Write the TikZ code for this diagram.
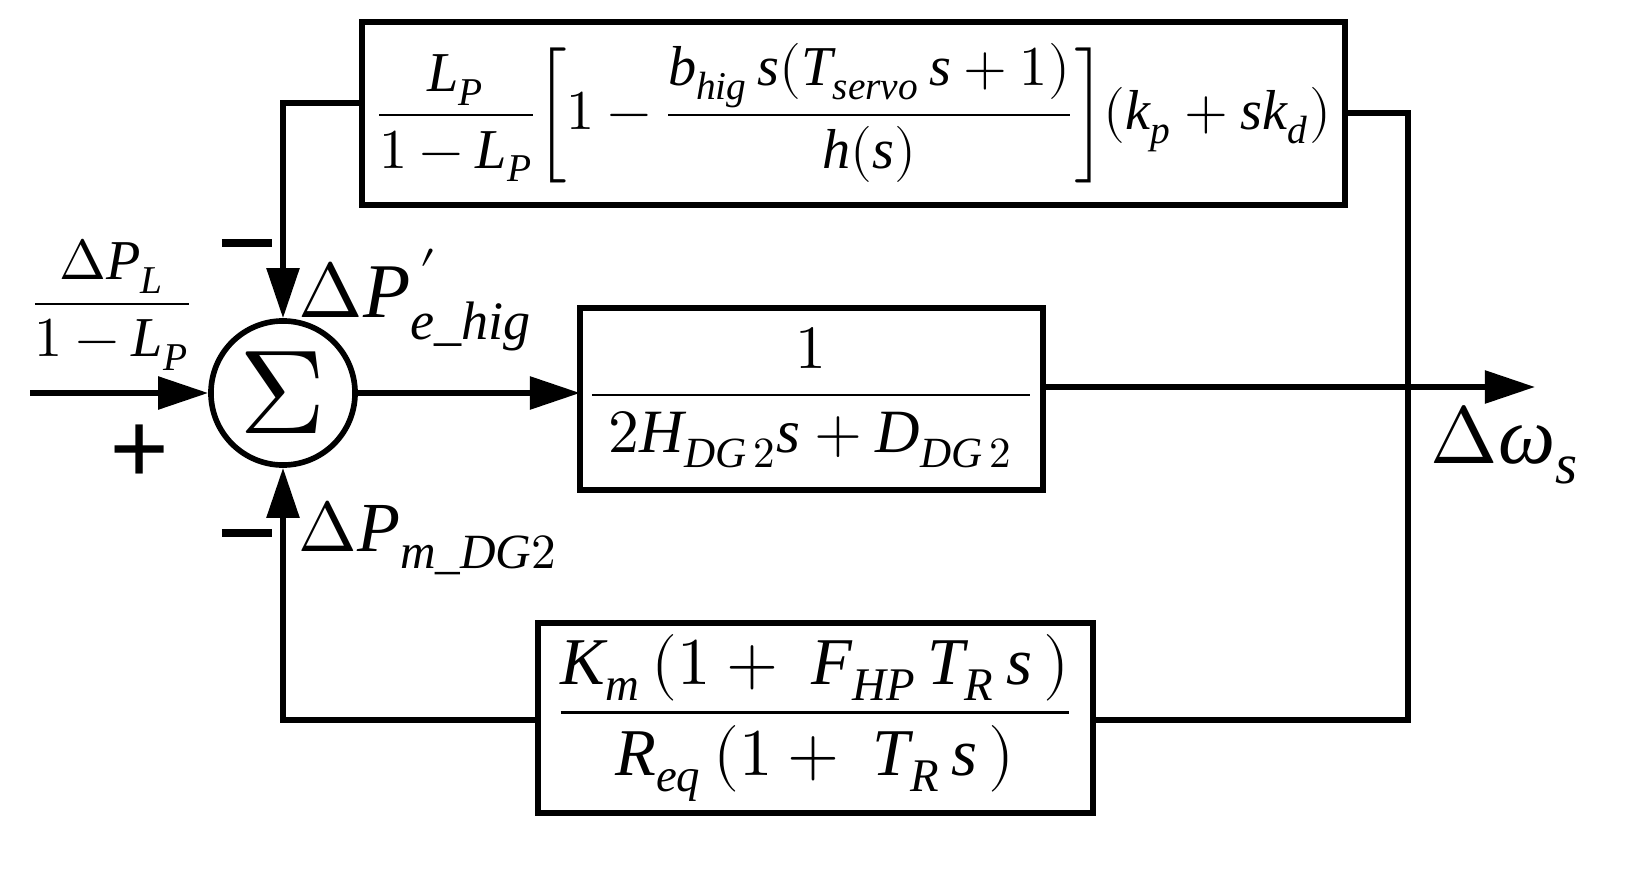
\documentclass[tikz,border=0pt]{standalone}
\usepackage{fontspec}
\setmainfont{Liberation Serif}
\usepackage{unicode-math}
\setmathfont{Latin Modern Math}
\setmathfont[range=it/{latin,Latin,greek}]{Liberation Serif Italic}
\usetikzlibrary{arrows.meta}
\begin{document}
\begin{tikzpicture}[x=0.01cm,y=-0.01cm,
  blk/.style={draw,line width=1.6pt,inner sep=0pt},
  wire/.style={line width=1.6pt},
  arr/.style={wire,-{Triangle[length=0.5cm,width=0.32cm]}},
  lbl/.style={font=\fontsize{19}{22}\selectfont},
  sgn/.style={font=\fontsize{30}{30}\selectfont\bfseries}]
\useasboundingbox (0,0) rectangle (1639,879);
\draw[blk] (362,22) rectangle (1345,205);
\node[font=\fontsize{16}{19}\selectfont] (top) at (853,113) {$\dfrac{L_P}{1-L_P}\!\left[1-\dfrac{b_{hig}\,s(T_{servo}\,s+1)}{h(s)}\right]\!(k_p+sk_d)$};
\draw[blk] (580,308) rectangle (1043,490);
\node[font=\fontsize{17.5}{21}\selectfont] (mid) at (811,398) {$\dfrac{1}{\;2H_{DG\,2}s+D_{DG\,2}\;}$};
\draw[blk] (538,623) rectangle (1093,813);
\node[lbl] (bot) at (815,718) {$\dfrac{K_m\,(1+\;F_{HP}\,T_R\,s\,)}{R_{eq}\,(1+\;T_R\,s\,)}$};
\node[draw,circle,line width=1.6pt,minimum size=1.44cm,inner sep=0pt] (sum) at (283,393) {\fontsize{34}{34}\selectfont$\Sigma$};
\coordinate (in) at (30,393);
\coordinate (out) at (1535,387);
\coordinate (tr) at (1408,113);
\coordinate (br) at (1408,720);
\draw[arr] (in) -- (sum.west);
\draw[arr] (362,103) -| (sum.north);
\draw[arr] (sum.east) -- (580,393);
\draw[arr] (1043,387) -- (out);
\draw[wire] (1345,113) -- (tr) -- (br) -- (1093,720);
\draw[arr] (538,720) -| (sum.south);
\node[font=\fontsize{16}{19}\selectfont] (pl) at (112,305) {$\dfrac{\Delta P_L}{1-L_P}$};
\node[sgn] (plus) at (140,455) {+};
\node[sgn] (m1) at (247,243) {\rule{0.5cm}{0.07cm}};
\node[sgn] (m2) at (247,533) {\rule{0.5cm}{0.07cm}};
\node[font=\fontsize{22}{26}\selectfont,anchor=west,inner sep=0pt] (pe) at (298,300) {$\Delta P_{e\_hig}^{\,\prime}$};
\node[font=\fontsize{20}{24}\selectfont,anchor=west,inner sep=0pt] (pm) at (298,538) {$\Delta P_{m\_DG2}$};
\node[font=\fontsize{23}{26}\selectfont,anchor=west,inner sep=0pt] (w) at (1430,445) {$\Delta\omega_s$};
\end{tikzpicture}
\end{document}
